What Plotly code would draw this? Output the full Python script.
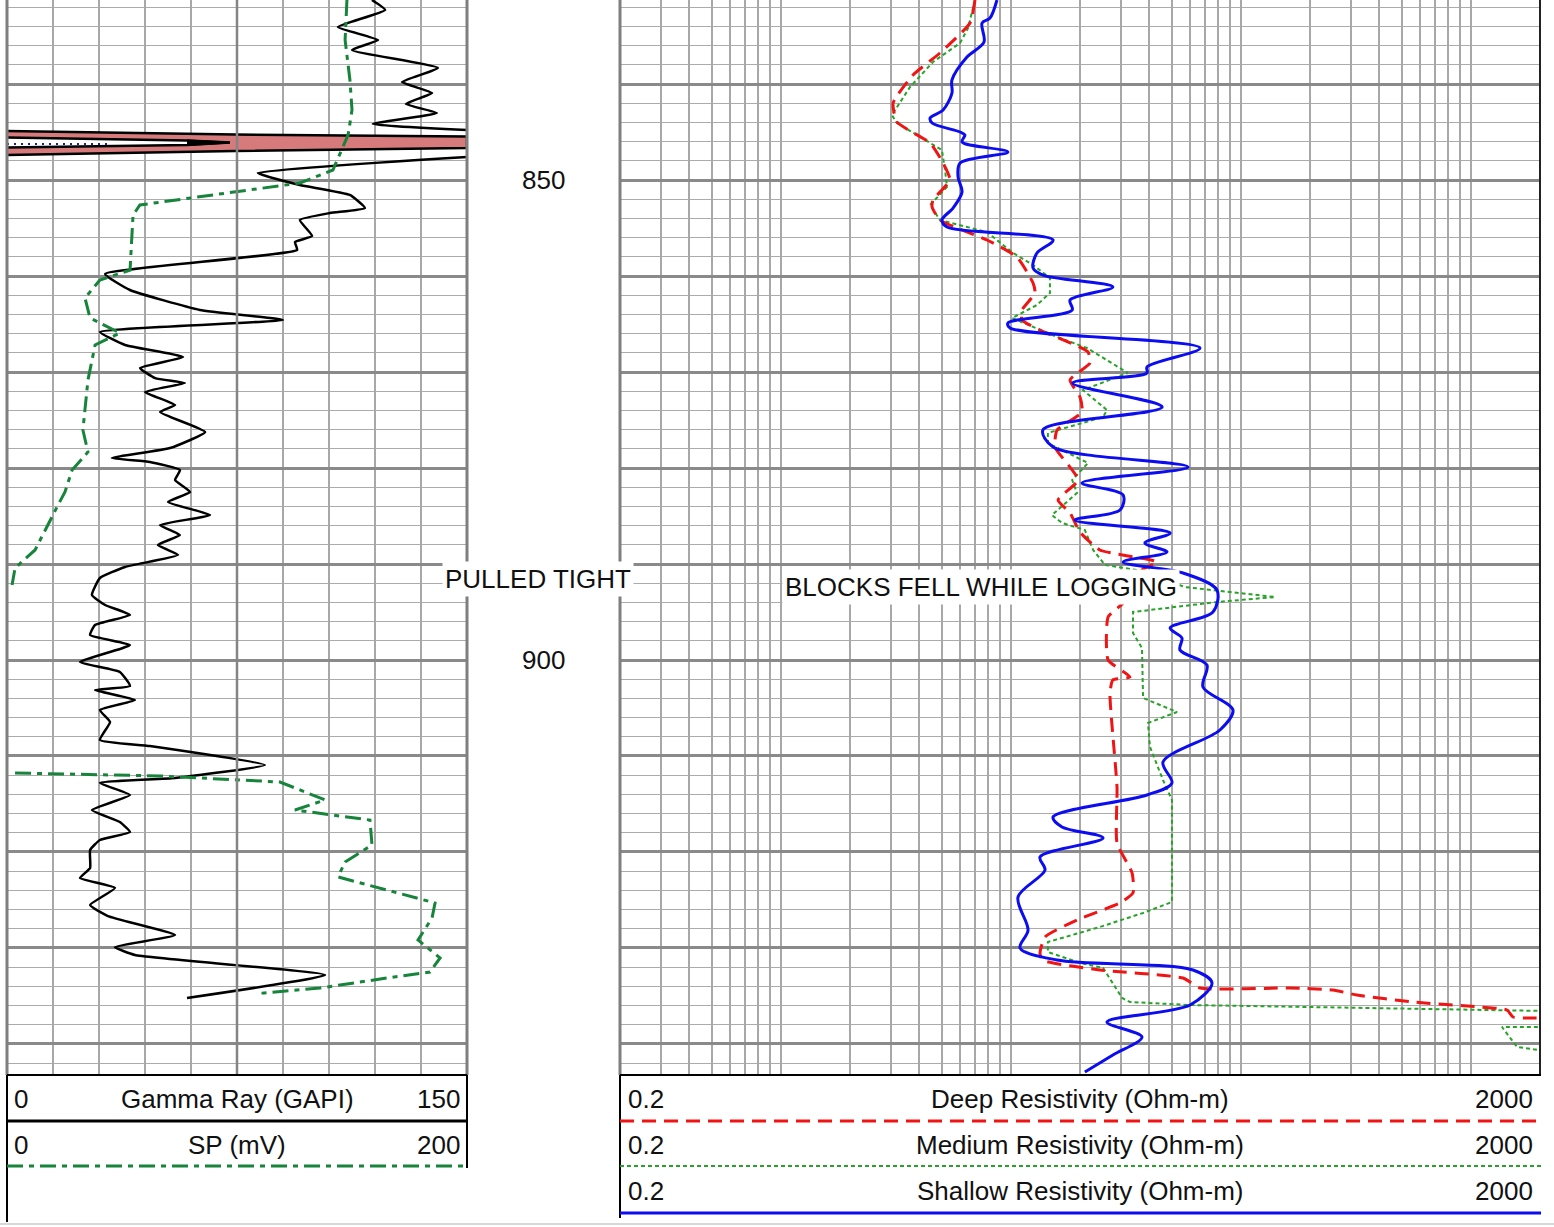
import math
import plotly.graph_objects as go

W, H = 1554, 1227
TRACK_BOTTOM_PX = 1075
DEPTH_TOP, DEPTH_BOTTOM = 831.25, 943.23

# ---------------- data ----------------
# Gamma Ray (GAPI), 0-150 scale; None = off scale (band region)
depth_gr = [831.25, 832.29, 834.06, 835.42, 836.46, 838.33, 839.79, 840.94, 842.08, 843.02, 844.17, 844.79,
            None,
            847.60, 849.27, 850.52, 851.56, 852.92, 853.44, 854.17, 855.83, 856.46, 857.29, 859.79, 861.46,
            863.54, 864.58, 865.83, 867.19, 868.44, 869.58, 870.63, 871.15, 872.08, 873.44, 874.17, 876.25,
            877.92, 878.96, 879.38, 880.21, 881.25, 882.50, 883.54, 884.90, 885.94, 886.98, 888.02, 889.06,
            890.31, 891.46, 893.23, 894.27, 895.31, 896.35, 897.40, 898.44, 900.21, 901.25, 902.71, 903.13,
            904.17, 905.21, 906.46, 908.33, 908.96, 910.94, 912.29, 912.81, 914.06, 915.63, 916.88, 917.92,
            918.75, 919.79, 921.67, 922.71, 923.75, 925.52, 926.67, 928.65, 929.90, 930.73, 932.81, 935.21]
gamma_ray = [119.0, 123.3, 107.9, 121.0, 112.5, 140.5, 128.8, 138.6, 130.1, 140.2, 119.3, 150.0,
             None,
             150.0, 81.8, 95.5, 111.8, 116.7, 105.3, 95.5, 99.5, 93.9, 94.6, 32.0, 40.1,
             62.9, 90.0, 30.3, 38.5, 57.4, 43.4, 48.3, 58.0, 45.0, 54.8, 49.9, 64.6,
             53.2, 34.2, 46.6, 56.4, 54.8, 59.7, 52.5, 66.2, 49.9, 56.4, 49.2, 55.8,
             38.5, 30.3, 27.7, 32.0, 40.1, 28.7, 27.1, 40.1, 23.8, 36.8, 40.1, 28.7,
             41.7, 30.3, 33.6, 30.3, 46.6, 84.1, 54.8, 30.3, 40.1, 27.7, 36.8, 40.1,
             30.3, 27.1, 27.1, 23.8, 35.2, 27.1, 32.9, 54.8, 35.2, 41.7, 103.7, 58.7]

# SP (mV), 0-200 scale
depth_sp = [831.25, 835.42, 839.58, 842.71, 845.31, 848.96, 850.31, 851.04, 851.77, 852.60, 853.65, 859.38,
            860.42, 862.29, 864.38, 865.94, 867.19, 870.83, 876.04, 878.33, 880.21, 882.50, 883.85, 886.46,
            888.54, 890.42, 892.19,
            None,
            911.77, 912.08, 912.71, 913.54, 914.58, 915.63, 916.67, 919.27, 921.04, 922.60, 925.31, 926.88,
            929.17, 931.04, 932.50, 933.13, 934.17, 934.69, 935.31]
sp = [147.8, 147.0, 149.1, 150.0, 148.3, 141.7, 127.4, 105.7, 83.9, 57.8, 54.8, 53.5,
      40.4, 33.9, 36.1, 49.1, 38.3, 35.2, 33.0, 35.2, 28.3, 25.2, 22.2, 16.5,
      12.2, 3.5, 2.2,
      None,
      3.5, 66.5, 118.7, 127.4, 138.3, 125.2, 157.8, 158.7, 147.0, 143.9, 186.1, 184.8,
      178.7, 188.3, 183.9, 165.2, 136.1, 111.3, 110.9]

# Deep Resistivity (Ohm-m)
depth_deep = [831.25, 833.65, 836.77, 839.06, 841.98, 843.96, 846.15, 848.23, 850.00, 852.08, 852.81, 854.17,
              856.25, 858.02, 860.73, 861.77, 863.54, 864.58, 865.63, 867.92, 869.06, 870.83, 872.60, 874.17,
              876.04, 877.81, 881.25, 883.33, 884.69, 886.67, 888.54, 889.79, 890.63, 894.06, 895.52, 900.00,
              901.77, 902.08, 903.44, 913.23, 919.06, 922.19, 924.27, 925.31, 927.08, 928.85, 930.52, 931.25,
              932.29, 933.13, 934.17, 934.17, 934.38, 934.90, 935.63, 936.15, 936.46, 937.19, 937.29]
res_deep = [6.99, 6.65, 4.92, 3.76, 3.08, 3.20, 4.46, 5.08, 5.44, 4.59, 4.55, 4.92,
            7.88, 10.64, 12.5, 12.75, 11.19, 11.19, 13.4, 21.67, 22.1, 18.1, 20.0, 20.4,
            15.9, 15.57, 19.6, 16.05, 18.1, 20.0, 24.4, 43.2, 37.2, 30.8, 26.5, 26.5,
            33.0, 27.8, 27.0, 28.97, 28.97, 33.7, 34.0, 29.85, 19.4, 14.09, 13.4, 13.7,
            24.4, 56.1, 66.5, 163.7, 251.8, 320.2, 561.0, 1097.0, 1437.0, 1527.0, 2100.0]

# Medium Resistivity (Ohm-m); None = wrap around right edge
depth_med = [831.25, 834.17, 835.73, 837.71, 840.31, 843.23, 844.06, 845.52, 846.88, 848.96, 850.73, 852.60,
             854.17, 855.42, 857.60, 858.85, 860.21, 861.77, 863.02, 864.38, 866.35, 867.50, 870.10, 871.88,
             873.96, 874.69, 876.35, 877.40, 879.48, 881.25, 882.60, 884.90, 885.73, 886.46, 888.54, 890.10,
             890.63, 892.40, 893.44, 893.96, 895.00, 897.19, 898.75, 903.96, 905.42, 906.56, 909.06, 912.50,
             914.58, 925.21, 926.35, 927.81, 929.38, 930.42, 931.56, 932.08, 935.21, 935.63, 935.94, 936.56,
             None,
             938.23, 938.23, 940.31, 940.73]
res_med = [6.99, 6.52, 6.02, 4.59, 3.65, 3.04, 3.20, 4.03, 5.02, 5.18, 5.28, 4.46,
           4.92, 7.88, 10.23, 12.5, 14.8, 14.8, 13.0, 10.13, 15.9, 21.45, 32.3, 20.6,
           26.2, 25.2, 14.5, 14.5, 21.67, 18.5, 19.4, 15.1, 16.7, 21.0, 22.8, 25.7,
           35.4, 57.2, 140.9, 78.8, 34.0, 34.0, 37.2, 37.6, 52.8, 39.5, 40.3, 45.9,
           50.2, 50.2, 37.6, 24.4, 14.5, 14.5, 20.0, 25.2, 30.5, 33.0, 60.2, 2100.0,
           None,
           2100.0, 1367.0, 1589.0, 2100.0]

# Shallow Resistivity (Ohm-m)
depth_sha = [831.25, 833.13, 833.65, 835.63, 837.19, 839.58, 840.94, 842.71, 843.54, 844.06, 845.00, 845.31,
             846.04, 847.08, 848.23, 849.69, 851.25, 852.92, 854.17, 854.90, 856.25, 857.60, 859.17, 859.90,
             861.15, 862.50, 863.54, 864.90, 865.42, 867.50, 869.48, 870.10, 871.15, 873.65, 876.04, 877.81,
             879.90, 881.56, 882.81, 884.38, 885.42, 886.77, 887.81, 888.75, 889.79, 890.94, 892.71, 895.00,
             896.67, 897.71, 898.96, 900.52, 902.81, 905.21, 907.29, 910.63, 912.81, 914.06, 916.35, 917.40,
             918.54, 920.52, 921.88, 924.69, 928.13, 930.00, 931.25, 932.29, 933.65, 935.94, 937.71, 939.27,
             941.15, 942.92]
res_sha = [8.71, 8.12, 7.50, 7.65, 6.45, 5.55, 5.55, 5.08, 4.46, 4.55, 6.02, 6.32,
           6.14, 9.72, 6.02, 5.90, 6.14, 5.61, 5.02, 5.28, 15.27, 13.0, 12.5, 13.8,
           27.8, 18.1, 18.5, 9.72, 9.93, 66.5, 39.1, 39.1, 18.6, 45.5, 13.8, 15.27,
           59.0, 20.4, 30.8, 29.85, 19.0, 49.3, 38.3, 47.8, 30.8, 56.1, 78.8, 75.7,
           49.3, 55.5, 54.4, 71.3, 68.5, 92.5, 81.2, 45.9, 50.2, 39.1, 15.27, 16.7,
           25.2, 13.4, 14.09, 10.75, 11.89, 10.97, 15.9, 62.0, 75.0, 60.2, 26.2, 37.2,
           27.8, 21.0]

# Shaded high-GR band (GAPI / depth)
band_outer_gr = [0.0, 74.3, 150.0, 150.0, 74.3, 0.0]
band_outer_depth = [844.90, 845.26, 845.47, 846.67, 846.98, 847.40]
band_gap_gr = [0.0, 58.7, 72.7, 58.7, 0.0]
band_gap_depth = [845.57, 845.89, 846.09, 846.35, 846.61]
band_tip_gr = [58.7, 72.7, 58.7]
band_tip_depth = [845.89, 846.09, 846.35]
dots_gr = [0.0, 34.0]
dots_depth = [846.25, 846.25]

depth_labels = [850, 900]
notes = [("PULLED TIGHT", 538, 891.56), ("BLOCKS FELL WHILE LOGGING", 981, 892.40)]

# ---------------- figure ----------------
FONT = "Liberation Sans, Arial, sans-serif"
SP_DASH = "16px,6px,5px,6px"
fig = go.Figure()

def px(x):
    return x / W

def py(y):
    return 1 - y / H

# band
fig.add_trace(go.Scatter(x=band_outer_gr, y=band_outer_depth, mode="lines", fill="toself",
                         fillcolor="#d67a7c", line=dict(color="black", width=2.5),
                         xaxis="x", yaxis="y", hoverinfo="skip"))
fig.add_trace(go.Scatter(x=band_gap_gr, y=band_gap_depth, mode="lines", fill="toself",
                         fillcolor="white", line=dict(color="black", width=2.5),
                         xaxis="x", yaxis="y", hoverinfo="skip"))
fig.add_trace(go.Scatter(x=band_tip_gr, y=band_tip_depth, mode="lines", fill="toself",
                         fillcolor="black", line=dict(color="black", width=2),
                         xaxis="x", yaxis="y", hoverinfo="skip"))
fig.add_trace(go.Scatter(x=dots_gr, y=dots_depth, mode="lines",
                         line=dict(color="#1c1c9c", width=2, dash="2px,5px"),
                         xaxis="x", yaxis="y", hoverinfo="skip"))

# SP and GR
fig.add_trace(go.Scatter(x=sp, y=depth_sp, mode="lines", connectgaps=False,
                         line=dict(color="#16843a", width=3, dash=SP_DASH),
                         xaxis="x3", yaxis="y"))
fig.add_trace(go.Scatter(x=gamma_ray, y=depth_gr, mode="lines", connectgaps=False,
                         line=dict(color="black", width=2.5, shape="spline", smoothing=0.4),
                         xaxis="x", yaxis="y"))

# resistivities
fig.add_trace(go.Scatter(x=res_med, y=depth_med, mode="lines", connectgaps=False,
                         line=dict(color="#27a327", width=2, dash="4px,3px"),
                         xaxis="x2", yaxis="y2"))
fig.add_trace(go.Scatter(x=res_deep, y=depth_deep, mode="lines",
                         line=dict(color="#f01414", width=3, dash="14px,8px", shape="spline", smoothing=0.5),
                         xaxis="x2", yaxis="y2"))
fig.add_trace(go.Scatter(x=res_sha, y=depth_sha, mode="lines",
                         line=dict(color="#0c0cf0", width=3, shape="spline", smoothing=0.9),
                         xaxis="x2", yaxis="y2"))

ydom = [1 - TRACK_BOTTOM_PX / H, 1]
ygrid = dict(domain=ydom, range=[DEPTH_BOTTOM, DEPTH_TOP], dtick=10, tick0=0,
             showgrid=True, gridcolor="#8a8a8a", gridwidth=2.5,
             minor=dict(dtick=2, tick0=0, showgrid=True, gridcolor="#ababab", gridwidth=1.3),
             showticklabels=False, zeroline=False, showline=False, ticks="", fixedrange=True)

shapes = []

def hline(x0, x1, y, color, width, dash="solid"):
    shapes.append(dict(type="line", xref="paper", yref="paper", x0=px(x0), x1=px(x1),
                       y0=py(y), y1=py(y), line=dict(color=color, width=width, dash=dash)))

def vline(x, y0, y1, color, width):
    shapes.append(dict(type="line", xref="paper", yref="paper", x0=px(x), x1=px(x),
                       y0=py(y0), y1=py(y1), line=dict(color=color, width=width)))

# track borders
vline(7, 0, TRACK_BOTTOM_PX, "#7f7f7f", 3)
vline(467, 0, TRACK_BOTTOM_PX, "#7f7f7f", 3)
shapes.append(dict(type="line", xref="x", yref="paper", x0=75, x1=75, y0=ydom[0], y1=1,
                   line=dict(color="#858585", width=2.5)))
vline(620, 0, TRACK_BOTTOM_PX, "#7f7f7f", 3)
vline(1540, 0, TRACK_BOTTOM_PX, "#222222", 2)
hline(7, 467, TRACK_BOTTOM_PX, "black", 2)
hline(620, 1541, TRACK_BOTTOM_PX, "black", 2)

# header boxes
vline(7, TRACK_BOTTOM_PX, 1222, "black", 2)
vline(467, TRACK_BOTTOM_PX, 1168, "black", 2)
hline(7, 467, 1121, "black", 3)
hline(7, 467, 1166, "#16843a", 3, SP_DASH)
vline(620, TRACK_BOTTOM_PX, 1218, "black", 2)
hline(620, 1541, 1121, "#f01414", 3, "14px,8px")
hline(620, 1541, 1166, "#27a327", 2, "4px,3px")
hline(620, 1541, 1213, "#0c0cf0", 3)
hline(0, 1554, 1224, "#d8d8d8", 2)

annotations = []

def text(t, x, y, anchor, yref="paper", bg=None):
    a = dict(text=t, x=px(x), xref="paper", y=(py(y) if yref == "paper" else y), yref=yref,
             xanchor=anchor, yanchor="middle", showarrow=False,
             font=dict(family=FONT, size=26, color="#111111"))
    if bg:
        a.update(bgcolor=bg, borderpad=2)
    annotations.append(a)

# header texts
text("0", 12, 1099, "left"); text("Gamma Ray (GAPI)", 237, 1099, "center"); text("150", 462, 1099, "right")
text("0", 12, 1145, "left"); text("SP (mV)", 237, 1145, "center"); text("200", 462, 1145, "right")
res_titles = ["Deep Resistivity (Ohm-m)", "Medium Resistivity (Ohm-m)", "Shallow Resistivity (Ohm-m)"]
for t, yy in zip(res_titles, [1099, 1145, 1191]):
    text("0.2", 626, yy, "left"); text(t, 1080, yy, "center"); text("2000", 1535, yy, "right")

for d in depth_labels:
    text(str(d), 543, d, "center", yref="y")
for t, x, d in notes:
    text(t, x, d, "center", yref="y", bg="white")

fig.update_layout(
    width=W, height=H, margin=dict(l=0, r=0, t=0, b=0),
    paper_bgcolor="white", plot_bgcolor="white", showlegend=False, hovermode=False,
    xaxis=dict(domain=[px(7), px(467)], range=[0, 150], dtick=15, tick0=0, showgrid=True,
               gridcolor="#a8a8a8", gridwidth=1.5, showticklabels=False, zeroline=False,
               showline=False, ticks="", anchor="y", fixedrange=True),
    xaxis3=dict(domain=[px(7), px(467)], range=[0, 200], overlaying="x", anchor="y", visible=False),
    xaxis2=dict(domain=[px(620), px(1540)], type="log", range=[math.log10(0.2), math.log10(2000)],
                dtick="D1", showgrid=True, gridcolor="#a8a8a8", gridwidth=1.5, showticklabels=False,
                zeroline=False, showline=False, ticks="", anchor="y2", fixedrange=True),
    yaxis=dict(anchor="x", **ygrid),
    yaxis2=dict(anchor="x2", **ygrid),
    shapes=shapes, annotations=annotations,
)

fig.write_html("out.html", config={"displayModeBar": False},
               post_script="document.body.style.margin='0';document.body.style.overflow='hidden';")
